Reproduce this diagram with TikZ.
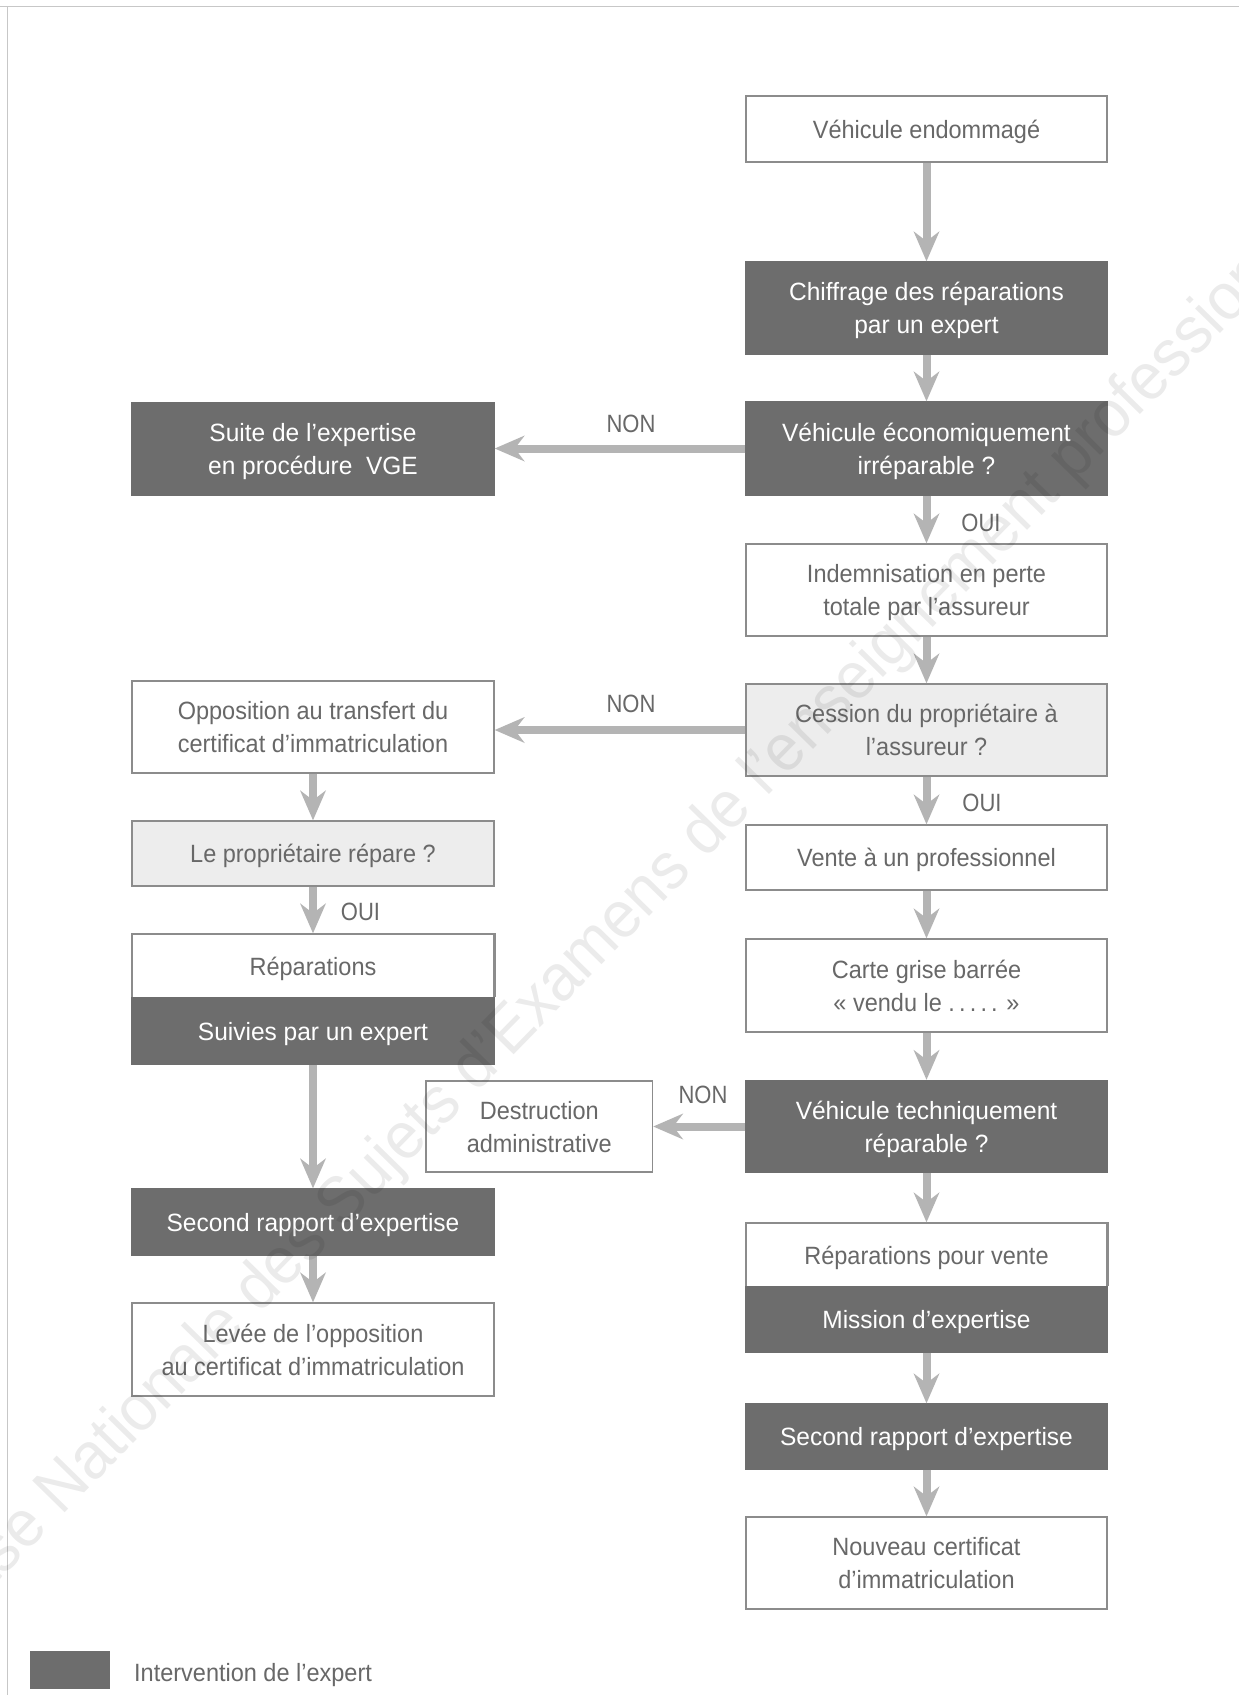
\documentclass[tikz,border=0pt]{standalone}
\usepackage{fontspec}
\setmainfont{Liberation Sans}[FakeStretch=0.88]
\newfontfamily\wtfont{Liberation Sans}[FakeStretch=0.94]
\newfontfamily\dkfont{Liberation Sans}[FakeStretch=0.98]
\newfontfamily\wmfont{Liberation Sans}[FakeStretch=0.95]
\usetikzlibrary{arrows.meta}
\definecolor{darkfill}{HTML}{6D6D6D}
\definecolor{lightfill}{HTML}{EDEDED}
\definecolor{bordercol}{HTML}{8C8C8C}
\definecolor{arrowcol}{HTML}{B4B4B4}
\definecolor{textgrey}{HTML}{686868}
\begin{document}
\begin{tikzpicture}[x=1pt,y=-1pt,font=\fontsize{25}{33}\selectfont,
  box/.style={draw=bordercol,line width=1.5pt,inner sep=0pt,align=center,text=textgrey,anchor=center,
    text depth=0pt,font=\wtfont\fontsize{25}{33}\selectfont},
  rbox/.style={box,minimum width=361pt},
  lbox/.style={box,minimum width=362pt},
  white/.style={fill=white},
  dark/.style={fill=darkfill,draw=darkfill,text=white,font=\dkfont\fontsize{25}{33}\selectfont},
  light/.style={fill=lightfill},
  arr/.style={draw=arrowcol,line width=8pt,-{Stealth[length=30pt,width=26pt,inset=10pt,line width=0pt]}},
  lbl/.style={text=textgrey,inner sep=0pt}]
\useasboundingbox (0,0) rectangle (1239,1695);
\fill[white] (0,0) rectangle (1239,1695);
% page frame
\draw[black!22,line width=1pt] (0,6) -- (1239,6);
\draw[black!22,line width=1pt] (7.5,6) -- (7.5,1695);

% right column
\node[rbox,white,minimum height=66pt] (ve) at (926.5,129) {Véhicule endommagé};
\node[rbox,dark,minimum height=92pt] (chif) at (926.5,308) {Chiffrage des réparations\\par un expert};
\node[rbox,dark,minimum height=93pt] (eco) at (926.5,448.5) {Véhicule économiquement\\irréparable ?};
\node[rbox,white,minimum height=92pt] (indem) at (926.5,590) {Indemnisation en perte\\totale par l’assureur};
\node[rbox,light,minimum height=92pt] (cession) at (926.5,730) {Cession du propriétaire à\\l’assureur ?};
\node[rbox,white,minimum height=65pt] (vente) at (926.5,857.5) {Vente à un professionnel};
\node[rbox,white,minimum height=93pt] (carte) at (926.5,985.5) {Carte grise barrée\\« vendu le .\,.\,.\,.\,. »};
\node[rbox,dark,minimum height=92pt] (tech) at (926.5,1126.5) {Véhicule techniquement\\réparable ?};
\node[rbox,white,minimum height=64pt] (repvente) at (926.5,1255) {Réparations pour vente};
\node[rbox,dark,minimum height=65pt] (mission) at (926.5,1319.5) {Mission d’expertise};
\draw[bordercol,line width=1.5pt] (mission.north west) -- (repvente.north west) -- (repvente.north east) -- (mission.north east);
\node[rbox,dark,minimum height=65pt] (secondR) at (926.5,1436.5) {Second rapport d’expertise};
\node[rbox,white,minimum height=92pt] (nouveau) at (926.5,1563) {Nouveau certificat\\d’immatriculation};

% left column
\node[lbox,dark,minimum height=92pt] (suite) at (313,449) {Suite de l’expertise\\en procédure~ VGE};
\node[lbox,white,minimum height=92pt] (oppo) at (313,727) {Opposition au transfert du\\certificat d’immatriculation};
\node[lbox,light,minimum height=65pt] (repare) at (313,853.5) {Le propriétaire répare ?};
\node[lbox,white,minimum height=64pt] (reparations) at (313,966) {Réparations};
\node[lbox,dark,minimum height=66pt] (suivies) at (313,1031) {Suivies par un expert};
\draw[bordercol,line width=1.5pt] (suivies.north west) -- (reparations.north west) -- (reparations.north east) -- (suivies.north east);
\node[lbox,dark,minimum height=66pt] (secondL) at (313,1222) {Second rapport d’expertise};
\node[lbox,white,minimum height=93pt] (levee) at (313,1349.5) {Levée de l’opposition\\au certificat d’immatriculation};

% middle
\node[box,white,minimum width=226.5pt,minimum height=91pt] (destr) at (539.25,1126.5) {Destruction\\administrative};

% arrows
\draw[arr] (ve) -- (chif);
\draw[arr] (chif) -- (eco);
\draw[arr] (eco) -- (indem);
\draw[arr] (indem) -- (cession);
\draw[arr] (cession) -- (vente);
\draw[arr] (vente) -- (carte);
\draw[arr] (carte) -- (tech);
\draw[arr] (tech) -- (repvente);
\draw[arr] (mission) -- (secondR);
\draw[arr] (secondR) -- (nouveau);
\draw[arr] (eco.west) -- (eco.west -| suite.east);
\draw[arr] (cession.west) -- (cession.west -| oppo.east);
\draw[arr] (tech.west) -- (destr.east);
\draw[arr] (oppo) -- (repare);
\draw[arr] (repare) -- (reparations);
\draw[arr] (suivies) -- (secondL);
\draw[arr] (secondL) -- (levee);

% labels
\node[lbl] (non1) at (631,424) {NON};
\node[lbl] (non2) at (631,704) {NON};
\node[lbl] (non3) at (703,1095) {NON};
\node[lbl] (oui1) at (981,523) {OUI};
\node[lbl] (oui2) at (982,803) {OUI};
\node[lbl] (oui3) at (360.5,912) {OUI};

% legend
\node[box,dark,minimum width=79pt,minimum height=36.6pt] (legsq) at (70.2,1670) {};
\node[lbl,anchor=base west,font=\wtfont\fontsize{25}{30}\selectfont] (legtxt) at (134,1681.7) {Intervention de l’expert};

% watermark
\node[rotate=45.6,text=black,opacity=0.08,inner sep=0pt,font=\wmfont\fontsize{66}{66}\selectfont] (wm) at (630,912) {Base Nationale des Sujets d’Examens de l’enseignement professionnel};
\end{tikzpicture}
\end{document}
